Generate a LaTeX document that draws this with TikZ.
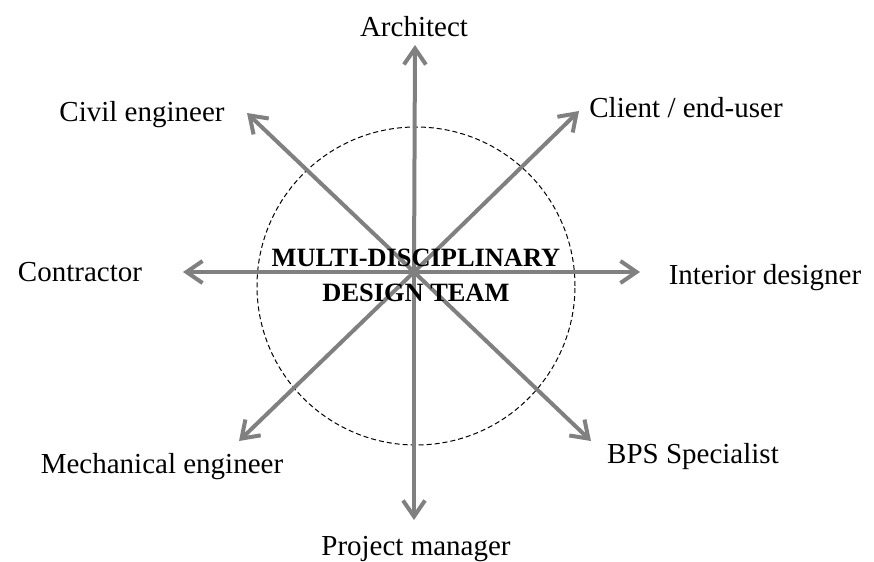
\documentclass[tikz,border=0pt]{standalone}
\usepackage{fontspec}
\setmainfont{Liberation Serif}
\usetikzlibrary{arrows.meta}
\definecolor{ar1}{RGB}{128,128,128}

\begin{document}
\begin{tikzpicture}[
    x=0.5pt, y=-0.5pt,
    a/.style={
        line width=2pt, color=ar1,
        -{Straight Barb[length=8pt,width=11pt,line width=2pt]}
    },
    r/.style={draw, dashed, dash pattern=on 2.5pt off 1.5pt,
        line width=0.5pt},
    t/.style={font=\fontsize{14.5}{17}\selectfont, inner sep=0pt},
    h/.style={font=\fontsize{13.2}{17.5}\selectfont\bfseries,
        align=center, inner sep=0pt}
]
\useasboundingbox (0,0) rectangle (874,562);

\coordinate (c) at (414,272);
\draw [r] (416,286) circle [radius=79.5pt];

% arrow tips
\coordinate (n)  at (415,45);
\coordinate (ne) at (579,111);
\coordinate (e)  at (640,272);
\coordinate (se) at (591,441);
\coordinate (s)  at (414,520);
\coordinate (sw) at (239,441);
\coordinate (w)  at (183,272);
\coordinate (nw) at (247,113);

\draw [a] (c) -- (n);
\draw [a] (c) -- (ne);
\draw [a] (c) -- (e);
\draw [a] (c) -- (se);
\draw [a] (c) -- (s);
\draw [a] (c) -- (sw);
\draw [a] (c) -- (w);
\draw [a] (c) -- (nw);

\node [t] (arch) at (414,27)  {Architect};
\node [t] (cli)  at (686,108) {Client / end-user};
\node [t] (int)  at (765,278) {Interior designer};
\node [t] (bps)  at (693,457) {BPS Specialist};
\node [t] (pm)   at (416,549) {Project manager};
\node [t] (mech) at (162,467) {Mechanical engineer};
\node [t] (con)  at (80,272)  {Contractor};
\node [t] (civ)  at (142,115) {Civil engineer};

\node [h] (team) at (416,275) {MULTI-DISCIPLINARY\\DESIGN TEAM};

\end{tikzpicture}
\end{document}
